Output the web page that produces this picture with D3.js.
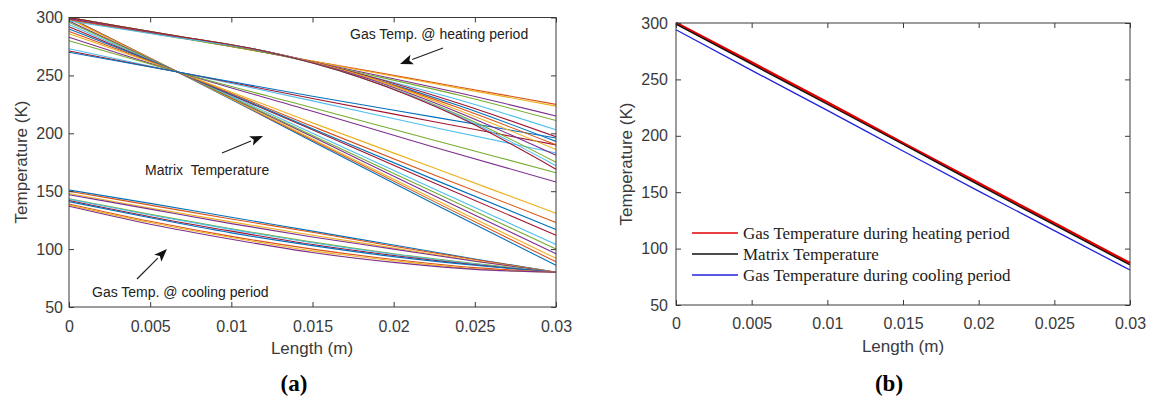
<!DOCTYPE html>
<html><head><meta charset="utf-8">
<script src="https://cdn.jsdelivr.net/npm/d3@7"></script>
<style>
body{margin:0;background:#fff;}
svg{display:block;}
text{font-family:"Liberation Sans",Arial,sans-serif;}
</style></head>
<body>
<svg id="chart" width="1150" height="398"></svg>
<script>
// ---------- data ----------
const xTickVals = [0, 0.005, 0.01, 0.015, 0.02, 0.025, 0.03];
const xTickLabels = ["0", "0.005", "0.01", "0.015", "0.02", "0.025", "0.03"];
const yTickVals = [50, 100, 150, 200, 250, 300];
const yTickLabels = ["50", "100", "150", "200", "250", "300"];

// panel (a): gas temperature during heating period
const heatX = [0, 0.006, 0.012, 0.018, 0.024, 0.03];
const heatingLines = [
  [300, 285, 270, 255, 240, 225],
  [299, 284.5, 270, 254.5, 239, 223.5],
  [300, 285, 270, 253, 235, 215],
  [298, 284, 270, 252, 233, 211],
  [300, 285.5, 271, 251, 229, 203],
  [299, 285, 271, 251, 226, 197],
  [300, 285.5, 271, 250, 224, 193],
  [298, 284.5, 271, 250, 222, 190],
  [300, 285.5, 271, 250, 220, 186],
  [299, 285, 271, 249, 218, 181],
  [300, 285.5, 271, 248, 216, 175],
  [297, 284, 271, 248, 215, 172],
  [300, 285.5, 271, 248, 214, 169]
];

// panel (a): matrix temperature
const matrixX = [0, 0.0067, 0.015, 0.0225, 0.03];
const matrixLines = [
  [300, 253, 193, 139, 86],
  [300, 253, 194, 141, 89],
  [299, 253, 195, 143, 92],
  [297, 253, 197, 146, 96],
  [296, 253, 198, 149, 100],
  [294, 253, 200, 152, 104],
  [292, 253, 203, 157, 112],
  [290, 253, 204, 160, 117],
  [288, 253, 206, 164, 123],
  [286, 253, 209, 170, 131],
  [283, 253, 219, 188, 158],
  [280, 253, 222, 194, 166],
  [273, 253, 228, 205, 183],
  [271, 253, 230, 210, 190],
  [270, 253, 232, 214, 196]
];

// panel (a): gas temperature during cooling period
const coolX = [0, 0.005, 0.01, 0.015, 0.02, 0.025, 0.03];
const coolingLines = [
  [151, 139.5, 127.5, 115.5, 103.5, 91.5, 80],
  [150, 138, 126, 114.5, 102.5, 91, 80],
  [148, 135.5, 123.5, 112, 101, 90, 80],
  [147, 134.5, 122, 110.5, 100, 89.5, 80],
  [143.5, 130, 117.5, 106, 96, 87.5, 80],
  [143, 129.5, 117, 105.5, 95.5, 87, 80],
  [142, 128, 115.5, 104, 94.5, 86.5, 80],
  [141, 127, 114, 103, 93.5, 86, 80],
  [139, 124, 111, 100, 91, 84, 80],
  [138, 123, 110, 98.5, 90, 83, 80],
  [137, 121.5, 108.5, 97, 88.5, 82.5, 80]
];

const lineColors = ["#0072BD", "#D95319", "#EDB120", "#7E2F8E", "#77AC30", "#4DBEEE", "#A2142F"];

// panel (b)
const xB = [0, 0.005, 0.01, 0.015, 0.02, 0.025, 0.03];
const gasHeatB = [300, 265, 229.5, 193.5, 158, 122.5, 87];
const matrixB = [299, 263.5, 228, 192.5, 156.5, 121, 85.5];
const gasCoolB = [294, 258, 222.5, 186.5, 151, 116, 81];
const legendLabels = ["Gas Temperature during heating period", "Matrix Temperature", "Gas Temperature during cooling period"];
const legendColors = ["#e00000", "#111111", "#2222dd"];

// ---------- drawing ----------
const svg = d3.select("#chart");
const axisColor = "#3a3a3a";

function frame(g, x, y, tickPadX, tickPadY) {
  const [x0, x1] = x.range(), [y0, y1] = y.range();
  const fmtX = d => xTickLabels[xTickVals.indexOf(d)];
  const fmtY = d => yTickLabels[yTickVals.indexOf(d)];
  const bottom = g.append("g").attr("transform", `translate(0,${y0})`)
    .call(d3.axisBottom(x).tickValues(xTickVals).tickFormat(fmtX).tickSizeInner(-5).tickSizeOuter(0).tickPadding(tickPadX));
  const left = g.append("g").attr("transform", `translate(${x0},0)`)
    .call(d3.axisLeft(y).tickValues(yTickVals).tickFormat(fmtY).tickSizeInner(-5).tickSizeOuter(0).tickPadding(tickPadY));
  const top = g.append("g").attr("transform", `translate(0,${y1})`)
    .call(d3.axisTop(x).tickValues(xTickVals).tickFormat("").tickSizeInner(-5).tickSizeOuter(0));
  const right = g.append("g").attr("transform", `translate(${x1},0)`)
    .call(d3.axisRight(y).tickValues(yTickVals).tickFormat("").tickSizeInner(-5).tickSizeOuter(0));
  [bottom, left, top, right].forEach(a => {
    a.select(".domain").remove();
    a.selectAll("line").attr("stroke", axisColor);
    a.selectAll("text").attr("fill", axisColor).style("font-size", "16px").style("font-family", "Liberation Sans, Arial, sans-serif");
  });
  g.append("rect").attr("x", x0).attr("y", y1).attr("width", x1 - x0).attr("height", y0 - y1)
    .attr("fill", "none").attr("stroke", axisColor).attr("stroke-width", 1);
}

function arrow(g, x1, y1, x2, y2) {
  const ang = Math.atan2(y2 - y1, x2 - x1);
  const L = 13, W = 5;
  const bx = x2 - L * Math.cos(ang), by = y2 - L * Math.sin(ang);
  g.append("line").attr("x1", x1).attr("y1", y1).attr("x2", bx).attr("y2", by)
    .attr("stroke", "#222").attr("stroke-width", 1.2);
  const px = -Math.sin(ang), py = Math.cos(ang);
  g.append("path").attr("d", `M${x2},${y2}L${bx + W * px},${by + W * py}L${bx + 3 * Math.cos(ang)},${by + 3 * Math.sin(ang)}L${bx - W * px},${by - W * py}Z`)
    .attr("fill", "#111");
}

// ----- panel (a) -----
const xa = d3.scaleLinear().domain([0, 0.03]).range([69, 556]);
const ya = d3.scaleLinear().domain([50, 300]).range([307, 17.5]);
const ga = svg.append("g");
const plotA = ga.append("g");

let ci = 0;
function drawGroup(xs, lines) {
  const ln = d3.line().x((d, i) => xa(xs[i])).y(d => ya(d)).curve(d3.curveMonotoneX);
  lines.forEach(vals => {
    plotA.append("path").attr("d", ln(vals)).attr("fill", "none")
      .attr("stroke", lineColors[ci % lineColors.length]).attr("stroke-width", 1.1);
    ci++;
  });
}
drawGroup(matrixX, matrixLines);
drawGroup(heatX, heatingLines);
drawGroup(coolX, coolingLines);

frame(ga, xa, ya, 14, 6);

ga.append("text").attr("x", 312).attr("y", 354).attr("text-anchor", "middle")
  .attr("fill", axisColor).style("font-size", "17px").text("Length (m)");
ga.append("text").attr("transform", "translate(27,162) rotate(-90)").attr("text-anchor", "middle")
  .attr("fill", axisColor).style("font-size", "17px").text("Temperature (K)");

// annotations
ga.append("text").attr("x", 350).attr("y", 39).style("font-size", "14px").attr("fill", "#222")
  .text("Gas Temp. @ heating period");
arrow(ga, 443, 48, 400, 64);
ga.append("text").attr("x", 145).attr("y", 175).style("font-size", "14px").attr("fill", "#222")
  .style("white-space", "pre").text("Matrix  Temperature");
arrow(ga, 222, 153, 263, 136);
ga.append("text").attr("x", 92).attr("y", 297).style("font-size", "14px").attr("fill", "#222")
  .text("Gas Temp. @ cooling period");
arrow(ga, 137, 279, 167, 249);

ga.append("text").attr("x", 294).attr("y", 391).attr("text-anchor", "middle")
  .style("font-family", "Liberation Serif, Times New Roman, serif").style("font-weight", "bold")
  .style("font-size", "23px").attr("fill", "#000").text("(a)");

// ----- panel (b) -----
const xb = d3.scaleLinear().domain([0, 0.03]).range([676, 1130]);
const yb = d3.scaleLinear().domain([50, 300]).range([305, 23]);
const gb = svg.append("g");
const lnB = d3.line().x((d, i) => xb(xB[i])).y(d => yb(d)).curve(d3.curveMonotoneX);
gb.append("path").attr("d", lnB(gasHeatB)).attr("fill", "none").attr("stroke", legendColors[0]).attr("stroke-width", 2.6);
gb.append("path").attr("d", lnB(matrixB)).attr("fill", "none").attr("stroke", legendColors[1]).attr("stroke-width", 1.3);
gb.append("path").attr("d", lnB(gasCoolB)).attr("fill", "none").attr("stroke", legendColors[2]).attr("stroke-width", 1.3);

frame(gb, xb, yb, 13, 8);

gb.append("text").attr("x", 903).attr("y", 352).attr("text-anchor", "middle")
  .attr("fill", axisColor).style("font-size", "17px").text("Length (m)");
gb.append("text").attr("transform", "translate(632,164) rotate(-90)").attr("text-anchor", "middle")
  .attr("fill", axisColor).style("font-size", "17px").text("Temperature (K)");

const leg = gb.append("g");
legendLabels.forEach((lab, i) => {
  const yy = 233 + i * 21;
  leg.append("line").attr("x1", 692).attr("x2", 738).attr("y1", yy).attr("y2", yy)
    .attr("stroke", legendColors[i]).attr("stroke-width", 1.3);
  leg.append("text").attr("x", 743).attr("y", yy + 6)
    .style("font-family", "Liberation Serif, Times New Roman, serif").style("font-size", "17px")
    .attr("fill", "#222").text(lab);
});

gb.append("text").attr("x", 889).attr("y", 391).attr("text-anchor", "middle")
  .style("font-family", "Liberation Serif, Times New Roman, serif").style("font-weight", "bold")
  .style("font-size", "23px").attr("fill", "#000").text("(b)");
</script>
</body></html>
